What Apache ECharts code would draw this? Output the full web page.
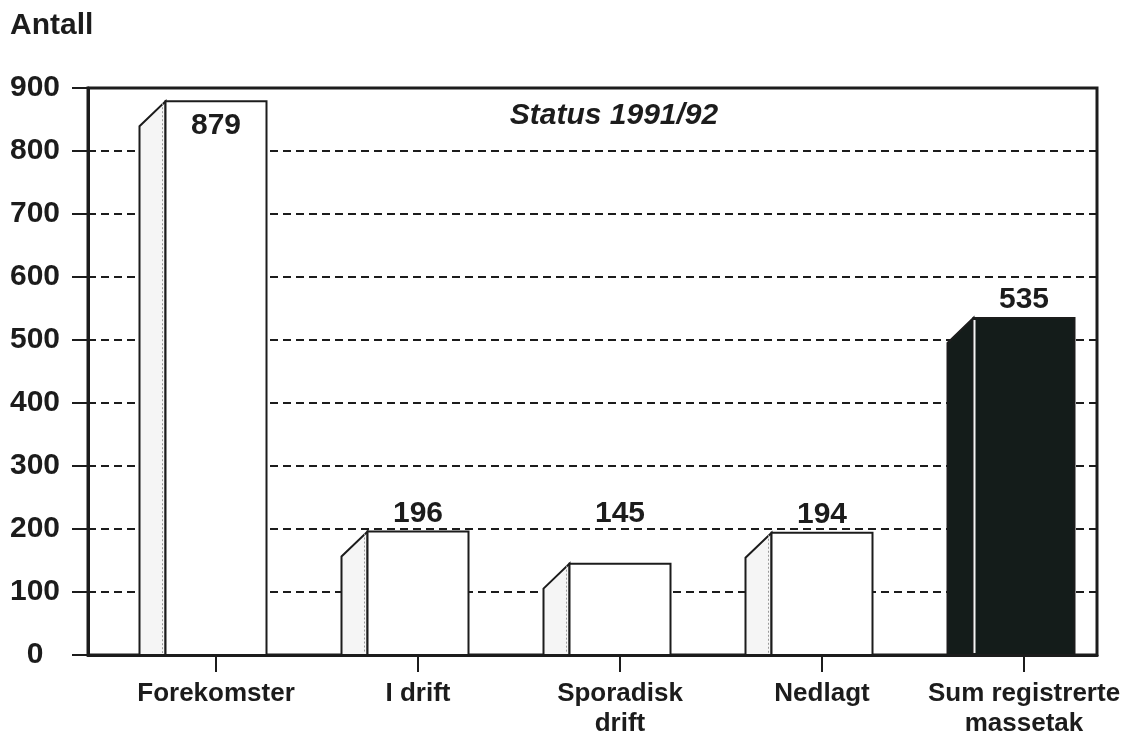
<!DOCTYPE html>
<html><head><meta charset="utf-8">
<script src="https://cdn.jsdelivr.net/npm/echarts@6/dist/echarts.min.js"></script>
<style>html,body{margin:0;padding:0;background:#fff}#c{width:1125px;height:735px}</style>
</head><body><div id="c"></div>
<script>
const categories = ['Forekomster', 'I drift', 'Sporadisk\ndrift', 'Nedlagt', 'Sum registrerte\nmassetak'];
const values = [879, 196, 145, 194, 535];
// value level each label sits above (null = inside the top of the bar)
const labelLevels = [null, 196, 196, 194, 535];
const darkBar = [false, false, false, false, true];
const yMin = 0, yMax = 900, yStep = 100;
const yAxisTitle = 'Antall';
const chartTitle = 'Status 1991/92';

const INK = '#1c1c1c';
const FONT = '"Liberation Sans", Arial, Helvetica, sans-serif';
const TOP = 88, BOTTOM = 80;

const chart = echarts.init(document.getElementById('c'), null, {renderer: 'canvas'});
chart.setOption({
  animation: false,
  backgroundColor: '#ffffff',
  grid: [
    {left: 88, right: 28, top: TOP, bottom: BOTTOM, show: true, borderColor: INK, borderWidth: 3, backgroundColor: 'transparent', containLabel: false, outerBoundsMode: 'none'},
    {left: 115, right: 0, top: TOP, bottom: BOTTOM, show: false, containLabel: false, outerBoundsMode: 'none'}
  ],
  graphic: [
    {type: 'text', left: 10, top: 11, style: {text: yAxisTitle, font: 'bold 30px ' + FONT, fill: INK}},
    {type: 'text', x: 614, y: 116, style: {text: chartTitle, font: 'italic bold 30px ' + FONT, fill: INK, align: 'center', verticalAlign: 'middle'}}
  ],
  xAxis: [{
    gridIndex: 0, type: 'category', data: categories, boundaryGap: true,
    axisLine: {show: true, lineStyle: {color: INK, width: 3}},
    axisTick: {show: false}, axisLabel: {show: false}, splitLine: {show: false}
  }, {
    gridIndex: 1, type: 'category', data: categories, boundaryGap: true,
    axisLine: {show: false},
    axisTick: {show: true, alignWithLabel: true, length: 17, lineStyle: {color: INK, width: 2}},
    axisLabel: {interval: 0, margin: 24, fontSize: 26, fontWeight: 'bold', fontFamily: FONT, color: INK, lineHeight: 30},
    splitLine: {show: false}
  }],
  yAxis: [{
    gridIndex: 0, type: 'value', min: yMin, max: yMax, interval: yStep,
    axisLine: {show: true, lineStyle: {color: INK, width: 3}},
    axisTick: {show: true, length: 16, lineStyle: {color: INK, width: 2}},
    axisLabel: {margin: 53, align: 'center', fontSize: 30, fontWeight: 'bold', fontFamily: FONT, color: INK},
    splitLine: {show: true, lineStyle: {color: INK, width: 2, type: [8, 5]}}
  }, {
    gridIndex: 1, type: 'value', min: yMin, max: yMax, interval: yStep,
    show: false, splitLine: {show: false}
  }],
  series: [{
    type: 'custom',
    xAxisIndex: 1, yAxisIndex: 1,
    data: values.map((v, i) => [i, v]),
    encode: {x: 0, y: 1},
    z: 5,
    clip: false,
    renderItem: function (params, api) {
      const i = api.value(0), v = api.value(1);
      const top = api.coord([i, v]);
      const base = api.coord([i, 0]);
      const bw = api.size([1, 0])[0];
      const fw = bw / 2;
      const x0 = top[0] - fw / 2;
      const sw = 26, drop = 25;
      const dark = darkBar[i];
      const fill = dark ? '#141c1a' : '#ffffff';
      const children = [
        {type: 'polygon', shape: {points: [[x0 - sw, base[1]], [x0 - sw, top[1] + drop], [x0, top[1]], [x0, base[1]]]},
          style: {fill: dark ? '#141c1a' : '#f5f5f5', stroke: INK, lineWidth: 2}},
        {type: 'rect', shape: {x: x0, y: top[1], width: fw, height: base[1] - top[1]},
          style: {fill: fill, stroke: INK, lineWidth: 2}}
      ];
      if (dark) {
        children.push({type: 'line', shape: {x1: x0 + 1, y1: top[1] + 2, x2: x0 + 1, y2: base[1] - 2}, style: {stroke: '#f4f4f4', lineWidth: 2}});
      } else {
        children.push({type: 'line', shape: {x1: x0 - 3, y1: top[1] + 2, x2: x0 - 3, y2: base[1] - 2}, style: {stroke: '#9a9a9a', lineWidth: 1, lineDash: [2, 2]}});
      }
      const lvl = labelLevels[i];
      if (lvl === null) {
        children.push({type: 'text', style: {text: String(v), x: top[0], y: top[1] + 10, align: 'center', verticalAlign: 'top', font: 'bold 30px ' + FONT, fill: INK}});
      } else {
        const ly = api.coord([i, lvl])[1];
        children.push({type: 'text', style: {text: String(v), x: top[0], y: ly - 3, align: 'center', verticalAlign: 'bottom', font: 'bold 30px ' + FONT, fill: INK}});
      }
      return {type: 'group', children: children};
    }
  }]
});
</script>
</body></html>
